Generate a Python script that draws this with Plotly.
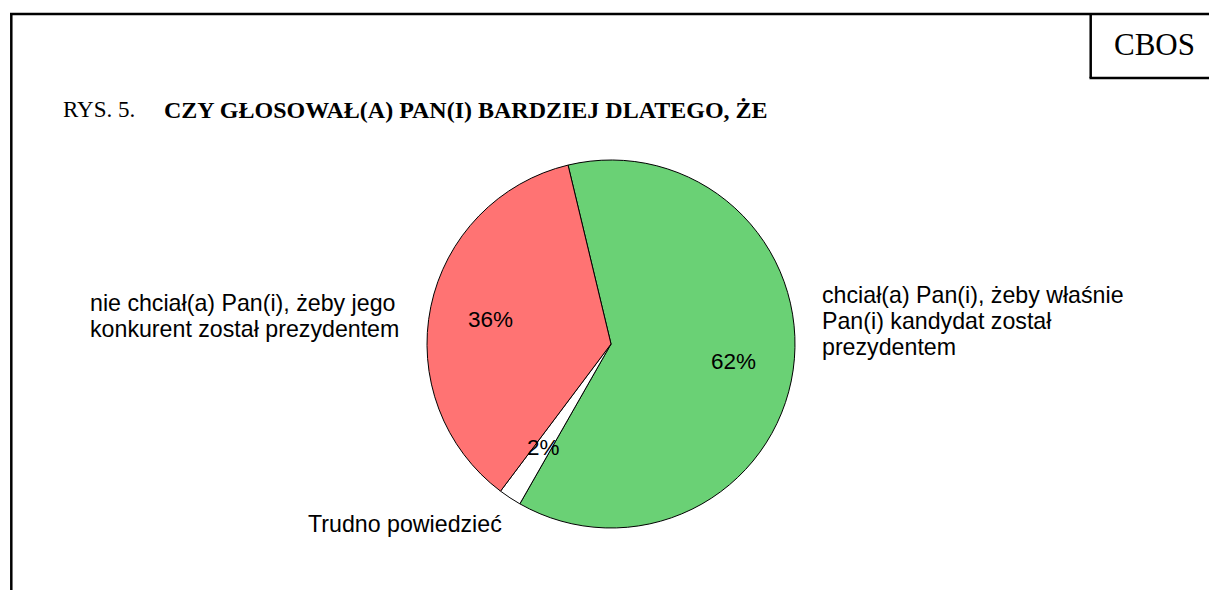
import math
import plotly.graph_objects as go

W, H = 1209, 590

# ---- data ----
categories = [
    "chciał(a) Pan(i), żeby właśnie Pan(i) kandydat został prezydentem",
    "Trudno powiedzieć",
    "nie chciał(a) Pan(i), żeby jego konkurent został prezydentem",
]
values = [62, 2, 36]
colors = ["#6AD175", "#FFFFFF", "#FF7373"]
label_lines = [
    ["chciał(a) Pan(i), żeby właśnie", "Pan(i) kandydat został", "prezydentem"],
    ["Trudno powiedzieć"],
    ["nie chciał(a) Pan(i), żeby jego", "konkurent został prezydentem"],
]
title_prefix = "RYS. 5."
title_text = "CZY GŁOSOWAŁ(A) PAN(I) BARDZIEJ DLATEGO, ŻE"
logo = "CBOS"

# ---- geometry (pixels) ----
cx, cy, R = 611, 344, 184
rotation = -13.5

def px(x):
    return x / W

def py(y):
    return 1 - y / H

fig = go.Figure()
fig.add_trace(go.Pie(
    labels=categories,
    values=values,
    marker=dict(colors=colors, line=dict(color="black", width=1)),
    sort=False,
    direction="clockwise",
    rotation=rotation,
    textinfo="none",
    hoverinfo="label+percent",
    domain=dict(x=[px(cx - R), px(cx + R)], y=[py(cy + R), py(cy - R)]),
    showlegend=False,
))

annotations = []
sans = "Liberation Sans, Arial, sans-serif"
serif = "Liberation Serif, Times New Roman, serif"

# percentage labels at 2/3 radius, middle angle of each slice
total = sum(values)
cum = 0
for v in values:
    mid = (cum + v / 2) / total
    cum += v
    ang = math.radians(rotation + 360 * mid)
    x = cx + 0.67 * R * math.sin(ang)
    y = cy - 0.67 * R * math.cos(ang)
    annotations.append(dict(
        x=px(x), y=py(y), xref="paper", yref="paper",
        text=f"{round(100 * v / total)}%", showarrow=False,
        xanchor="center", yanchor="middle",
        font=dict(family=sans, size=22.5, color="black"),
    ))

# outer labels
label_pos = [(820, 295), (306, 524), (88, 303)]
line_step = 26
for lines, (lx, ly) in zip(label_lines, label_pos):
    for i, t in enumerate(lines):
        annotations.append(dict(
            x=px(lx), y=py(ly + i * line_step), xref="paper", yref="paper",
            text=t, showarrow=False, xanchor="left", yanchor="middle",
            font=dict(family=sans, size=23.2, color="black"),
        ))

# title
annotations.append(dict(
    x=px(61), y=py(110), xref="paper", yref="paper", text=title_prefix,
    showarrow=False, xanchor="left", yanchor="middle",
    font=dict(family=serif, size=23, color="black"),
))
annotations.append(dict(
    x=px(162), y=py(110), xref="paper", yref="paper", text=f"<b>{title_text}</b>",
    showarrow=False, xanchor="left", yanchor="middle",
    font=dict(family=serif, size=24, color="black"),
))
annotations.append(dict(
    x=px(1154), y=py(44), xref="paper", yref="paper", text=logo,
    showarrow=False, xanchor="center", yanchor="middle",
    font=dict(family=serif, size=31, color="black"),
))

shapes = [
    dict(type="line", xref="paper", yref="paper", x0=px(11.3), x1=px(11.3),
         y0=py(13.5), y1=py(H + 5), line=dict(color="black", width=2.5)),
    dict(type="line", xref="paper", yref="paper", x0=px(10), x1=px(W + 5),
         y0=py(14), y1=py(14), line=dict(color="black", width=2.5)),
    dict(type="line", xref="paper", yref="paper", x0=px(1090.7), x1=px(1090.7),
         y0=py(14), y1=py(78), line=dict(color="black", width=2.5)),
    dict(type="line", xref="paper", yref="paper", x0=px(1089.5), x1=px(W + 5),
         y0=py(78), y1=py(78), line=dict(color="black", width=2.5)),
]

fig.update_layout(
    width=W, height=H,
    margin=dict(l=0, r=0, t=0, b=0),
    paper_bgcolor="white", plot_bgcolor="white",
    annotations=annotations, shapes=shapes,
    showlegend=False,
)

fig.write_html(
    "out.html",
    config={"displayModeBar": False},
    post_script="document.body.style.margin='0';document.body.style.overflow='hidden';",
)
